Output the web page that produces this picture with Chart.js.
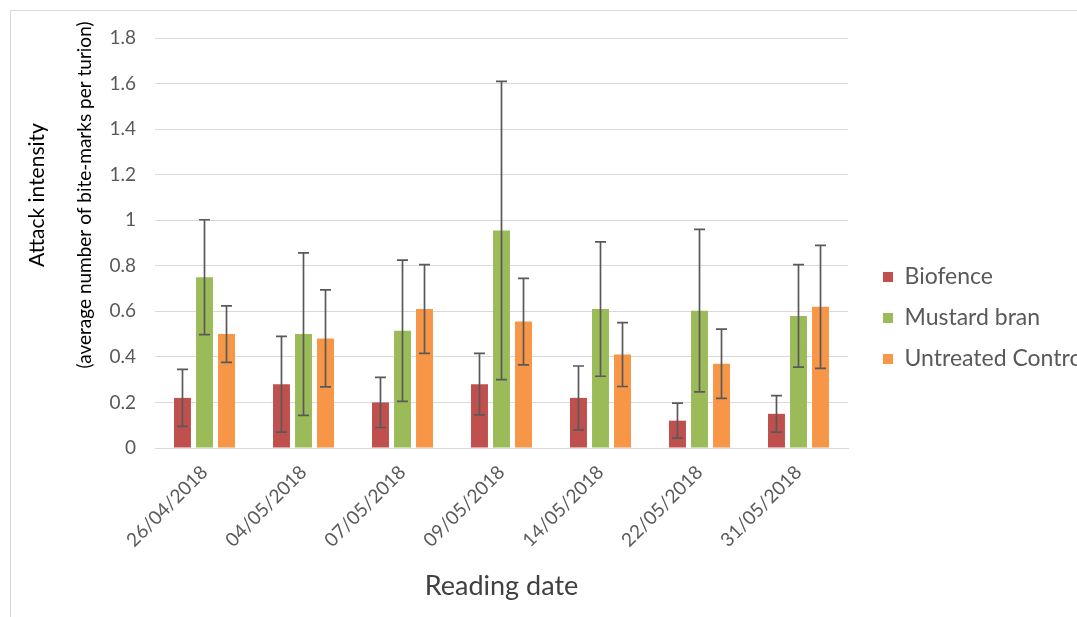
<!DOCTYPE html>
<html><head><meta charset="utf-8">
<script src="https://cdn.jsdelivr.net/npm/chart.js@4/dist/chart.umd.min.js"></script>
<style>
html,body{margin:0;padding:0;background:#fff;overflow:hidden;}
#wrap{position:relative;width:1077px;height:617px;overflow:hidden;}
#frame{position:absolute;left:10px;top:10px;width:1200px;height:800px;border-left:1px solid #d9d9d9;border-top:1px solid #d9d9d9;}
canvas{position:absolute;left:0;top:0;}
</style></head><body>
<div id="wrap"><div id="frame"></div><canvas id="c" width="1077" height="617"></canvas></div>
<script>
const categories = ['26/04/2018','04/05/2018','07/05/2018','09/05/2018','14/05/2018','22/05/2018','31/05/2018'];
const seriesNames = ['Biofence','Mustard bran','Untreated Control'];
const biofence    = [0.22, 0.28, 0.20, 0.28, 0.22, 0.12, 0.15];
const biofenceErr = [0.125, 0.21, 0.11, 0.135, 0.14, 0.077, 0.08];
const mustard     = [0.75, 0.50, 0.515, 0.955, 0.61, 0.603, 0.58];
const mustardErr  = [0.252, 0.357, 0.31, 0.655, 0.295, 0.357, 0.225];
const control     = [0.50, 0.481, 0.61, 0.555, 0.41, 0.37, 0.62];
const controlErr  = [0.124, 0.213, 0.195, 0.19, 0.14, 0.152, 0.27];
const yTicks = [0, 0.2, 0.4, 0.6, 0.8, 1, 1.2, 1.4, 1.6, 1.8];
const xTitle = 'Reading date';
const yTitleLines = ['Attack intensity', '(average number of bite-marks per turion)'];

const colors = ['#C0504D', '#9BBB59', '#F79646'];
const FONT = 'Lato, "Open Sans", sans-serif';

const errorBars = {
  id: 'errorBars',
  afterDatasetsDraw(chart) {
    const errs = [biofenceErr, mustardErr, controlErr];
    const ctx = chart.ctx;
    const y = chart.scales.y;
    ctx.save();
    ctx.strokeStyle = '#595959';
    ctx.lineWidth = 1.7;
    chart.data.datasets.forEach((ds, i) => {
      const meta = chart.getDatasetMeta(i);
      meta.data.forEach((bar, j) => {
        const v = ds.data[j], e = errs[i][j];
        const yt = y.getPixelForValue(v + e), yb = y.getPixelForValue(v - e);
        const x = bar.x, cap = 5.5;
        ctx.beginPath();
        ctx.moveTo(x, yt); ctx.lineTo(x, yb);
        ctx.moveTo(x - cap, yt); ctx.lineTo(x + cap, yt);
        ctx.moveTo(x - cap, yb); ctx.lineTo(x + cap, yb);
        ctx.stroke();
      });
    });
    ctx.restore();
  }
};

const yTitle = {
  id: 'yTitle',
  afterDraw(chart) {
    const ctx = chart.ctx;
    ctx.save();
    ctx.translate(37, 195);
    ctx.rotate(-Math.PI / 2);
    ctx.fillStyle = '#000000';
    ctx.textAlign = 'center';
    ctx.textBaseline = 'middle';
    ctx.font = '21px ' + FONT;
    ctx.fillText(yTitleLines[0], 0, 0);
    ctx.font = '19px ' + FONT;
    ctx.fillText(yTitleLines[1], 0, 48);
    ctx.restore();
  }
};

const legendPlace = {
  id: 'legendPlace',
  afterLayout(chart) {
    const lg = chart.legend;
    if (!lg) return;
    lg.left = 865; lg.right = 1400;
    lg.top = 19; lg.bottom = 617;
  }
};

new Chart(document.getElementById('c'), {
  type: 'bar',
  data: {
    labels: categories,
    datasets: [
      { label: seriesNames[0], data: biofence, backgroundColor: colors[0] },
      { label: seriesNames[1], data: mustard, backgroundColor: colors[1] },
      { label: seriesNames[2], data: control, backgroundColor: colors[2] }
    ]
  },
  options: {
    responsive: false,
    animation: false,
    devicePixelRatio: 1,
    categoryPercentage: 0.667,
    barPercentage: 0.77,
    layout: { padding: { left: 10, top: 38, right: 79, bottom: 0 } },
    plugins: {
      tooltip: { enabled: false },
      legend: {
        position: 'right',
        maxWidth: 150,
        labels: {
          boxWidth: 10, boxHeight: 10, padding: 18,
          color: '#595959',
          font: { family: FONT, size: 23 }
        }
      }
    },
    scales: {
      x: {
        grid: { display: false, drawTicks: false },
        border: { display: true, color: '#d9d9d9' },
        ticks: {
          color: '#595959', font: { family: FONT, size: 19 },
          minRotation: 45, maxRotation: 45, padding: 13, autoSkip: false
        },
        title: {
          display: true, text: xTitle, color: '#404040',
          font: { family: FONT, size: 27 }, padding: { top: 0, bottom: 15 }
        },
        afterFit(s) { s.height = 169; }
      },
      y: {
        min: 0, max: 1.8,
        afterBuildTicks(s) { s.ticks = yTicks.map(v => ({ value: v })); },
        grid: { color: '#d9d9d9', drawTicks: false },
        border: { display: false },
        ticks: {
          color: '#595959', font: { family: FONT, size: 19 }, padding: 19,
          callback: (v) => String(v)
        },
        afterFit(s) { s.width = 145; }
      }
    }
  },
  plugins: [errorBars, yTitle, legendPlace]
});
</script>
</body></html>
